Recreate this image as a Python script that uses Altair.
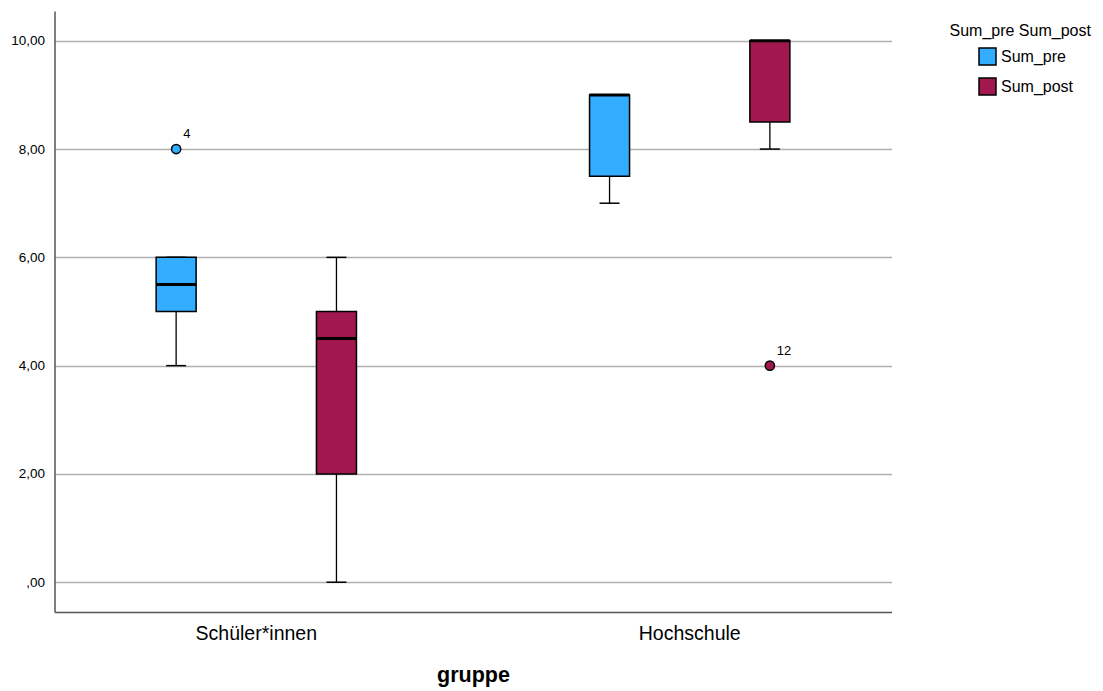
import altair as alt
import pandas as pd

# ---- data ----
groups = ["Schüler*innen", "Schüler*innen", "Hochschule", "Hochschule"]
series = ["Sum_pre", "Sum_post", "Sum_pre", "Sum_post"]
lower = [4, 0, 7, 8]
q1 = [5, 2, 7.5, 8.5]
median = [5.5, 4.5, 9, 10]
q3 = [6, 5, 9, 10]
upper = [6, 6, 9, 10]

out_groups = ["Schüler*innen", "Hochschule"]
out_series = ["Sum_pre", "Sum_post"]
out_values = [8, 4]
out_labels = ["4", "12"]

group_order = ["Schüler*innen", "Hochschule"]
series_order = ["Sum_pre", "Sum_post"]
colors = ["#33adff", "#a0184e"]
y_ticks = [0, 2, 4, 6, 8, 10]
legend_title = ["Sum_pre Sum_post"]

FONT = "Liberation Sans"

box = pd.DataFrame({"gruppe": groups, "serie": series, "lower": lower, "q1": q1,
                    "median": median, "q3": q3, "upper": upper})
caps = pd.concat([
    pd.DataFrame({"gruppe": groups, "serie": series, "cap": lower}),
    pd.DataFrame({"gruppe": groups, "serie": series, "cap": upper}),
])
outl = pd.DataFrame({"gruppe": out_groups, "serie": out_series,
                     "value": out_values, "label": out_labels})
ttl = pd.DataFrame({"t": legend_title})

x_enc = alt.X("gruppe:N", sort=group_order,
              scale=alt.Scale(paddingInner=0.5378, paddingOuter=0.2345),
              axis=alt.Axis(title="gruppe", labelAngle=0, ticks=False,
                            labelFontSize=19.5, labelPadding=12, labelColor="black",
                            titleFontSize=21.5, titleFontWeight="bold", titlePadding=22,
                            titleColor="black", domainColor="#555555", domainWidth=1.5,
                            labelFont=FONT, titleFont=FONT))
xo_enc = alt.XOffset("serie:N", sort=series_order,
                     scale=alt.Scale(paddingInner=0.7505, paddingOuter=0))
y_scale = alt.Scale(domain=[-0.55, 10.55], nice=False, zero=False)
y_axis = alt.Axis(title=None, values=y_ticks, ticks=False, grid=True,
                  gridColor="#b0b0b0", gridWidth=1.3,
                  labelExpr="datum.value == 0 ? ',00' : replace(format(datum.value, '.2f'), '.', ',')",
                  labelFontSize=13.5, labelPadding=10, labelColor="black", labelFont=FONT,
                  domainColor="#555555", domainWidth=1.5)
color_scale = alt.Scale(domain=series_order, range=colors)

whisk = alt.Chart(box).mark_rule(color="black", strokeWidth=1.3).encode(
    x=x_enc, xOffset=xo_enc,
    y=alt.Y("lower:Q", scale=y_scale, axis=y_axis), y2="upper:Q")

capm = alt.Chart(caps).mark_tick(color="black", size=20, thickness=1.5, opacity=1).encode(
    x=x_enc, xOffset=xo_enc, y=alt.Y("cap:Q", scale=y_scale, axis=y_axis))

bars = alt.Chart(box).mark_bar(stroke="black", strokeWidth=1.5, opacity=1).encode(
    x=x_enc, xOffset=xo_enc,
    y=alt.Y("q1:Q", scale=y_scale, axis=y_axis), y2="q3:Q",
    color=alt.Color("serie:N", sort=series_order, scale=color_scale,
                    legend=alt.Legend(title=None, orient="none", legendX=923.5, legendY=36,
                                      symbolType="square", symbolSize=289,
                                      symbolStrokeColor="black", symbolStrokeWidth=1.5,
                                      symbolOpacity=1,
                                      labelFontSize=16, labelFont=FONT, labelColor="black",
                                      labelOffset=4, rowPadding=7, padding=0)))

med = alt.Chart(box).mark_tick(color="black", size=40, thickness=3, opacity=1).encode(
    x=x_enc, xOffset=xo_enc, y=alt.Y("median:Q", scale=y_scale, axis=y_axis))

pts = alt.Chart(outl).mark_point(filled=True, size=85, stroke="black", strokeWidth=1.5,
                                  opacity=1, shape="circle").encode(
    x=x_enc, xOffset=xo_enc, y=alt.Y("value:Q", scale=y_scale, axis=y_axis),
    fill=alt.Fill("serie:N", scale=color_scale, legend=None))

lbl = alt.Chart(outl).mark_text(align="left", dx=7, dy=-15, fontSize=13, font=FONT,
                                color="black").encode(
    x=x_enc, xOffset=xo_enc, y=alt.Y("value:Q", scale=y_scale, axis=y_axis), text="label:N")

ltitle = alt.Chart(ttl).mark_text(align="left", baseline="middle", fontSize=16,
                                   font=FONT, color="black").encode(
    x=alt.value(895), y=alt.value(20), text="t:N")

chart = alt.layer(whisk, capm, bars, med, pts, lbl, ltitle).properties(
    width=837, height=601,
    autosize=alt.AutoSizeParams(type="none"),
    padding={"left": 46.5, "top": 3, "right": 203.5, "bottom": 79},
).configure_view(stroke=None).configure_axisY(domain=True)

chart.save("out.html", embed_options={"renderer": "svg", "actions": False})
